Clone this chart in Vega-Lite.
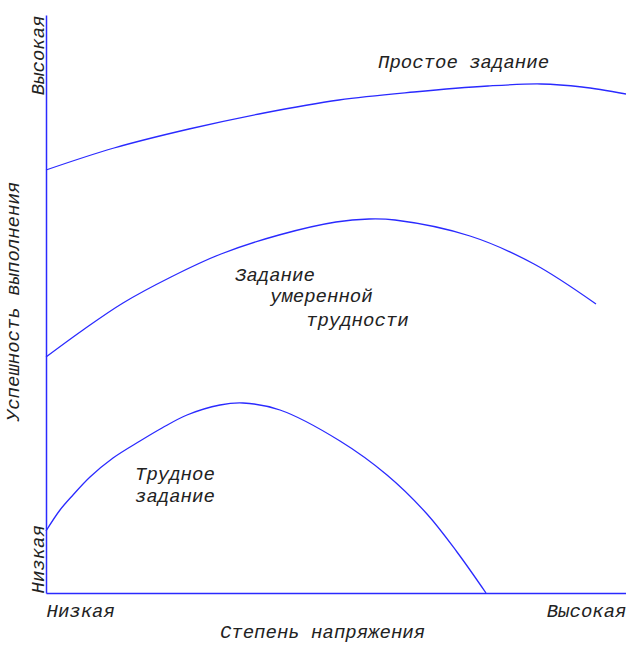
{
  "$schema": "https://vega.github.io/schema/vega-lite/v6.json",
  "autosize": "none",
  "width": 580,
  "height": 578,
  "padding": {"left": 46, "top": 15, "right": 0, "bottom": 52},
  "background": "white",
  "config": {
    "view": {"stroke": null},
    "font": "Liberation Mono"
  },
  "datasets": {
    "curves": [
      {"series": "easy", "x": 0, "y": 423},
      {"series": "easy", "x": 68, "y": 445},
      {"series": "easy", "x": 143, "y": 464},
      {"series": "easy", "x": 218, "y": 480},
      {"series": "easy", "x": 293, "y": 493},
      {"series": "easy", "x": 368, "y": 501},
      {"series": "easy", "x": 442, "y": 507},
      {"series": "easy", "x": 495, "y": 509},
      {"series": "easy", "x": 536, "y": 506},
      {"series": "easy", "x": 580, "y": 499},
      {"series": "moderate", "x": 0, "y": 236},
      {"series": "moderate", "x": 37, "y": 263},
      {"series": "moderate", "x": 77, "y": 290},
      {"series": "moderate", "x": 125, "y": 316},
      {"series": "moderate", "x": 175, "y": 339},
      {"series": "moderate", "x": 233, "y": 358},
      {"series": "moderate", "x": 290, "y": 371},
      {"series": "moderate", "x": 323, "y": 374},
      {"series": "moderate", "x": 349, "y": 373},
      {"series": "moderate", "x": 424, "y": 357},
      {"series": "moderate", "x": 488, "y": 329},
      {"series": "moderate", "x": 550, "y": 289},
      {"series": "hard", "x": 0, "y": 62},
      {"series": "hard", "x": 14, "y": 83},
      {"series": "hard", "x": 27, "y": 98},
      {"series": "hard", "x": 44, "y": 116},
      {"series": "hard", "x": 67, "y": 135},
      {"series": "hard", "x": 94, "y": 152},
      {"series": "hard", "x": 116, "y": 165},
      {"series": "hard", "x": 141, "y": 178},
      {"series": "hard", "x": 174, "y": 188},
      {"series": "hard", "x": 197, "y": 190},
      {"series": "hard", "x": 234, "y": 183},
      {"series": "hard", "x": 294, "y": 152},
      {"series": "hard", "x": 341, "y": 118},
      {"series": "hard", "x": 381, "y": 79},
      {"series": "hard", "x": 411, "y": 41},
      {"series": "hard", "x": 440, "y": 0}
    ],
    "labels": [
      {"label": "Простое задание", "x": 332, "y": 531},
      {"label": "Задание", "x": 189, "y": 318},
      {"label": "умеренной", "x": 224, "y": 297},
      {"label": "трудности", "x": 260, "y": 273},
      {"label": "Трудное", "x": 89, "y": 119},
      {"label": "задание", "x": 89, "y": 97}
    ]
  },
  "encoding": {
    "x": {
      "field": "x", "type": "quantitative",
      "scale": {"domain": [0, 580], "nice": false, "zero": false},
      "axis": {
        "values": [0, 580],
        "labelExpr": "datum.value < 100 ? 'Низкая' : 'Высокая'",
        "labelAlign": {"expr": "datum.value < 100 ? 'left' : 'right'"},
        "labelBaseline": "alphabetic",
        "labelPadding": 23,
        "labelFont": "Liberation Mono",
        "labelFontStyle": "italic",
        "labelFontSize": 19,
        "labelColor": "#222",
        "ticks": false,
        "grid": false,
        "domainColor": "#2a2aff",
        "domainWidth": 1.5,
        "title": "Степень напряжения",
        "titleFont": "Liberation Mono",
        "titleFontStyle": "italic",
        "titleFontWeight": "normal",
        "titleFontSize": 19,
        "titleColor": "#222",
        "titleX": 276,
        "titleY": 44,
        "titleAlign": "center",
        "titleBaseline": "alphabetic"
      }
    },
    "y": {
      "field": "y", "type": "quantitative",
      "scale": {"domain": [0, 578], "nice": false, "zero": false},
      "axis": {
        "values": [0, 578],
        "labelExpr": "datum.value > 100 ? 'Высокая' : 'Низкая'",
        "labelAngle": 270,
        "labelAlign": {"expr": "datum.value > 100 ? 'right' : 'left'"},
        "labelBaseline": "alphabetic",
        "labelPadding": 3,
        "labelFont": "Liberation Mono",
        "labelFontStyle": "italic",
        "labelFontSize": 19,
        "labelColor": "#222",
        "ticks": false,
        "grid": false,
        "domainColor": "#2a2aff",
        "domainWidth": 1.5,
        "title": "Успешность выполнения",
        "titleFont": "Liberation Mono",
        "titleFontStyle": "italic",
        "titleFontWeight": "normal",
        "titleFontSize": 19,
        "titleColor": "#222",
        "titleAngle": 270,
        "titleX": -28,
        "titleY": 286,
        "titleAlign": "center",
        "titleBaseline": "alphabetic"
      }
    }
  },
  "layer": [
    {
      "data": {"name": "curves"},
      "mark": {"type": "line", "interpolate": "catmull-rom", "color": "#2a2aff", "strokeWidth": 1.3},
      "encoding": {
        "detail": {"field": "series", "type": "nominal"}
      }
    },
    {
      "data": {"name": "labels"},
      "mark": {"type": "text", "align": "left", "baseline": "middle", "font": "Liberation Mono", "fontStyle": "italic", "fontSize": 19, "color": "#222"},
      "encoding": {
        "text": {"field": "label", "type": "nominal"}
      }
    }
  ]
}
